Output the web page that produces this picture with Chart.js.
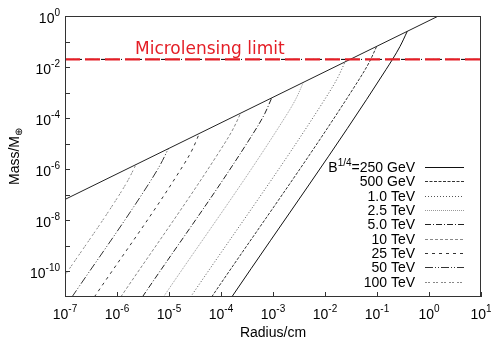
<!DOCTYPE html>
<html>
<head>
<meta charset="utf-8">
<script src="https://cdn.jsdelivr.net/npm/chart.js@4/dist/chart.umd.min.js"></script>
<style>
  html, body { margin: 0; padding: 0; background: #fff; }
  #wrap { width: 491px; height: 339px; }
</style>
</head>
<body>
<div id="wrap"><canvas id="chart" width="491" height="339"></canvas></div>
<script>
// Оси
const xTickExp = [-7, -6, -5, -4, -3, -2, -1, 0, 1];
const yTickExp = [0, -1, -2, -3, -4, -5, -6, -7, -8, -9, -10];
const yLabelExp = [0, -2, -4, -6, -8, -10];

// Верхняя граница и предел микролинзирования
const boundR = [1e-7, 1.52];
const boundM = [6.6e-8, 1.0];
const limitR = [1e-7, 10];
const limitM = [0.02, 0.02];

// Кривые масса-радиус для разных B^{1/4}
const seriesNames = ['250 GeV', '500 GeV', '1.0 TeV', '2.5 TeV', '5.0 TeV', '10 TeV', '25 TeV', '50 TeV', '100 TeV'];
const r250 = [1.61e-4, 0.149, 0.276, 0.383];
const m250 = [1e-11, 8.0e-3, 0.0635, 0.253];
const r500 = [6.6e-5, 0.0391, 0.0719, 0.0986];
const m500 = [1e-11, 2.06e-3, 0.0163, 0.065];
const r1k = [2.6e-5, 9.66e-3, 0.01774, 0.0243];
const m1k = [1e-11, 5.06e-4, 4.02e-3, 0.016];
const r2k5 = [7.8e-6, 1.55e-3, 2.83e-3, 3.83e-3];
const m2k5 = [1e-11, 8.0e-5, 6.35e-4, 2.53e-3];
const r5k = [3.07e-6, 3.84e-4, 7.0e-4, 9.44e-4];
const m5k = [1e-11, 1.96e-5, 1.56e-4, 6.2e-4];
const r10k = [1.18e-6, 9.35e-5, 1.73e-4, 2.39e-4];
const m10k = [1e-11, 5.0e-6, 3.97e-5, 1.58e-4];
const r25k = [3.66e-7, 1.574e-5, 2.86e-5, 3.83e-5];
const m25k = [1e-11, 8.0e-7, 6.35e-6, 2.53e-5];
const r50k = [1.36e-7, 3.72e-6, 6.92e-6, 9.7e-6];
const m50k = [1e-11, 2.02e-7, 1.61e-6, 6.4e-6];
const r100k = [1e-7, 8.81e-7, 1.644e-6, 2.32e-6];
const m100k = [7.1e-11, 4.84e-8, 3.85e-7, 1.53e-6];

const seriesR = [r250, r500, r1k, r2k5, r5k, r10k, r25k, r50k, r100k];
const seriesM = [m250, m500, m1k, m2k5, m5k, m10k, m25k, m50k, m100k];

// Стили линий (как в gnuplot)
const seriesColor = ['#111', '#333', '#555', '#999', '#222', '#888', '#333', '#333', '#888'];
const seriesDash = [[], [3, 1.5], [1, 2], [1, 1], [6, 2, 1, 2], [3, 2], [3, 4], [8, 2, 1, 2, 1, 2], [2, 1, 2, 3]];

const FONT = '"Liberation Sans", Arial, sans-serif';
const RED = '#e41e26';

function pts(rs, ms) {
  return rs.map((r, i) => ({ x: r, y: ms[i] }));
}

// order: меньшее значение рисуется поверх
const datasets = [
  {
    data: pts(limitR, limitM), borderColor: '#000', borderWidth: 1,
    borderDash: [5, 3, 1, 3], pointRadius: 0, order: 3
  },
  {
    data: pts(limitR, limitM), borderColor: RED, borderWidth: 2.4,
    borderDash: [15, 5], pointRadius: 0, order: 0
  },
  {
    data: pts(boundR, boundM), borderColor: '#222', borderWidth: 1, pointRadius: 0, order: 1
  },
];

seriesNames.forEach((name, i) => {
  datasets.push({
    label: name,
    data: pts(seriesR[i], seriesM[i]),
    borderColor: seriesColor[i],
    borderWidth: 1,
    borderDash: seriesDash[i],
    cubicInterpolationMode: 'monotone',
    pointRadius: 0,
    order: 2,
  });
});

function supText(ctx, base, sup, x, y, align, bSize, sSize, rise) {
  ctx.font = `${bSize}px ${FONT}`;
  const wb = ctx.measureText(base).width;
  ctx.font = `${sSize}px ${FONT}`;
  const ws = ctx.measureText(sup).width;
  const total = wb + ws;
  let x0 = x;
  if (align === 'center') x0 = x - total / 2;
  if (align === 'right') x0 = x - total;
  ctx.textAlign = 'left';
  ctx.textBaseline = 'alphabetic';
  ctx.font = `${bSize}px ${FONT}`;
  ctx.fillText(base, x0, y);
  ctx.font = `${sSize}px ${FONT}`;
  ctx.fillText(sup, x0 + wb, y - rise);
}

const decor = {
  id: 'decor',
  afterDraw(chart) {
    const ctx = chart.ctx;
    const a = chart.chartArea;
    const xs = chart.scales.x, ys = chart.scales.y;
    ctx.save();

    // рамка
    ctx.strokeStyle = '#333';
    ctx.lineWidth = 1;
    ctx.setLineDash([]);
    ctx.strokeRect(a.left + 0.5, a.top + 0.5, a.right - a.left - 1, a.bottom - a.top - 1);

    // засечки
    ctx.beginPath();
    xTickExp.forEach(e => {
      const px = Math.round(xs.getPixelForValue(Math.pow(10, e))) + 0.5;
      ctx.moveTo(px, a.bottom);
      ctx.lineTo(px, a.bottom - 5);
    });
    yTickExp.forEach(e => {
      const py = Math.round(ys.getPixelForValue(Math.pow(10, e))) + 0.5;
      ctx.moveTo(a.left, py);
      ctx.lineTo(a.left + 5, py);
    });
    ctx.stroke();

    // подписи осей
    ctx.fillStyle = '#000';
    xTickExp.forEach(e => {
      const px = xs.getPixelForValue(Math.pow(10, e));
      supText(ctx, '10', String(e), px, 318.5, 'center', 14, 10, 7);
    });
    yLabelExp.forEach(e => {
      const py = ys.getPixelForValue(Math.pow(10, e));
      supText(ctx, '10', String(e), 60, py + 6.5, 'right', 14, 10, 7);
    });

    // заголовки осей
    ctx.font = `14px ${FONT}`;
    ctx.textAlign = 'center';
    ctx.fillText('Radius/cm', (a.left + a.right) / 2, 337);

    ctx.save();
    ctx.translate(19, (a.top + a.bottom) / 2);
    ctx.rotate(-Math.PI / 2);
    ctx.font = `14px ${FONT}`;
    const wm = ctx.measureText('Mass/M').width;
    ctx.font = `10px ${FONT}`;
    const wo = ctx.measureText('⊕').width;
    const sx = -(wm + wo) / 2;
    ctx.textAlign = 'left';
    ctx.font = `14px ${FONT}`;
    ctx.fillText('Mass/M', sx, 0);
    ctx.font = `10px ${FONT}`;
    ctx.fillText('⊕', sx + wm, 3);
    ctx.restore();

    // Microlensing limit
    ctx.fillStyle = RED;
    ctx.font = '17px "DejaVu Sans", sans-serif';
    ctx.textAlign = 'left';
    ctx.fillText('Microlensing limit', 135, 53.5);

    // легенда
    ctx.fillStyle = '#000';
    const lx = 415, ly = 167, step = 14.34;
    seriesNames.forEach((name, i) => {
      const y = ly + i * step;
      if (i === 0) {
        ctx.font = `14px ${FONT}`;
        const wRest = ctx.measureText('=' + name).width;
        const wB = ctx.measureText('B').width;
        ctx.font = `10px ${FONT}`;
        const wS = ctx.measureText('1/4').width;
        const x0 = lx - wRest - wS - wB;
        ctx.font = `14px ${FONT}`;
        ctx.textAlign = 'left';
        ctx.fillText('B', x0, y + 5);
        ctx.fillText('=' + name, x0 + wB + wS, y + 5);
        ctx.font = `10px ${FONT}`;
        ctx.fillText('1/4', x0 + wB, y - 1.5);
      } else {
        ctx.font = `14px ${FONT}`;
        ctx.textAlign = 'right';
        ctx.fillText(name, lx, y + 5);
      }
      ctx.beginPath();
      ctx.strokeStyle = seriesColor[i];
      ctx.setLineDash(seriesDash[i]);
      ctx.moveTo(425, Math.round(y) + 0.5);
      ctx.lineTo(464, Math.round(y) + 0.5);
      ctx.stroke();
    });
    ctx.setLineDash([]);
    ctx.restore();
  }
};

new Chart(document.getElementById('chart'), {
  type: 'line',
  data: { datasets },
  options: {
    responsive: false,
    animation: false,
    layout: { padding: { left: 65, top: 16, right: 10, bottom: 42 } },
    plugins: { legend: { display: false }, tooltip: { enabled: false } },
    scales: {
      x: { type: 'logarithmic', min: 1e-7, max: 10, display: false },
      y: { type: 'logarithmic', min: 1e-11, max: 1, display: false },
    },
  },
  plugins: [decor],
});
</script>
</body>
</html>
